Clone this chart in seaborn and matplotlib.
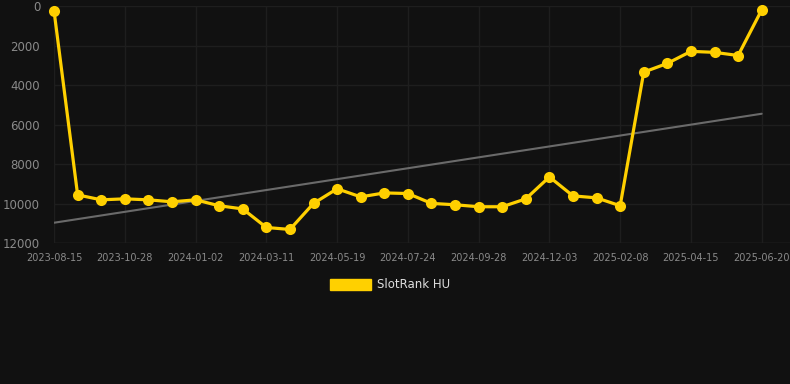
import pandas as pd
import seaborn as sns
import matplotlib.pyplot as plt
from matplotlib.patches import Patch

tick_labels = ['2023-08-15', '2023-10-28', '2024-01-02', '2024-03-11', '2024-05-19',
               '2024-07-24', '2024-09-28', '2024-12-03', '2025-02-08', '2025-04-15',
               '2025-06-20']
rank_values = [240, 9560, 9810, 9760, 9810, 9910, 9810, 10110, 10270, 11210,
               11310, 9990, 9250, 9660, 9460, 9490, 9990, 10060, 10160, 10160,
               9760, 8650, 9610, 9710, 10110, 3340, 2900, 2290, 2340, 2500, 190]
trend_values = [10970, 5450]

df = pd.DataFrame({'idx': range(len(rank_values)), 'rank': rank_values})
trend = pd.DataFrame({'idx': [0, len(rank_values) - 1], 'rank': trend_values})

bg = '#111111'
gold = '#FFD000'

sns.set_style('dark')
plt.rcParams['font.family'] = ['DejaVu Sans']

fig = plt.figure(figsize=(7.9, 3.84), dpi=100, facecolor=bg)
ax = fig.add_axes([0.0684, 0.367, 0.9316, 0.617])
ax.set_facecolor(bg)

sns.lineplot(data=trend, x='idx', y='rank', ax=ax, color='#6a6a6a', linewidth=1.5)
sns.lineplot(data=df, x='idx', y='rank', ax=ax, color=gold, linewidth=2.3,
             marker='o', markersize=8, markeredgewidth=0, clip_on=False, zorder=5)

ax.set_xlim(0, 31.2)
ax.set_ylim(12000, 0)
ax.set_yticks(range(0, 12001, 2000))
ax.set_xticks(range(0, len(rank_values), 3))
ax.set_xticklabels(tick_labels)
ax.set(xlabel='', ylabel='')

ax.grid(True, color='#1e1e1e', linewidth=1)
for s in ax.spines.values():
    s.set_visible(False)
ax.axhline(12000, color='#2e2e2e', linewidth=1, zorder=0)
ax.tick_params(axis='x', colors='#2e2e2e', labelcolor='#8a8a8a', labelsize=7, length=5, pad=2)
ax.tick_params(axis='y', length=0, labelcolor='#8a8a8a', labelsize=8.5, pad=10)

fig.legend(handles=[Patch(facecolor=gold, edgecolor=gold, label='SlotRank HU')],
           loc='center', bbox_to_anchor=(0.494, 0.258), frameon=False,
           labelcolor='#dddddd', fontsize=8.5, handlelength=3.5, handleheight=1.0,
           handletextpad=0.5)

fig.savefig('out.png', dpi=100, facecolor=bg)
